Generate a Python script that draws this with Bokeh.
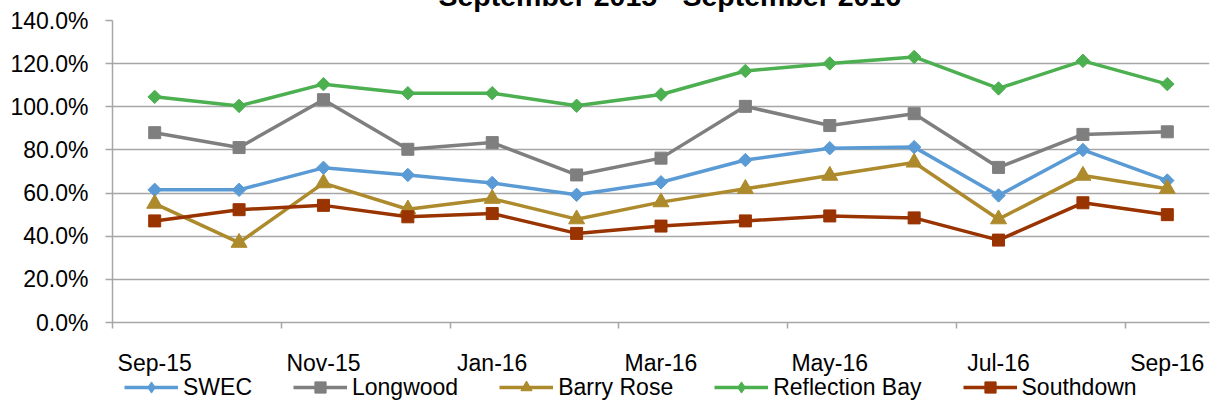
import numpy as np
from bokeh.plotting import figure
from bokeh.layouts import column
from bokeh.models import (FixedTicker, PrintfTickFormatter, Range1d, Legend,
                          LegendItem)
from bokeh.embed import file_html
from bokeh.resources import INLINE

# Monthly occupancy (%) by site, Sep 2015 - Sep 2016
months = ["Sep-15", "Oct-15", "Nov-15", "Dec-15", "Jan-16", "Feb-16", "Mar-16",
          "Apr-16", "May-16", "Jun-16", "Jul-16", "Aug-16", "Sep-16"]
swec = [61.5, 61.5, 71.7, 68.4, 64.7, 59.2, 65.0, 75.3, 80.8, 81.3, 58.9, 80.0, 65.8]
longwood = [88.0, 81.1, 103.3, 80.3, 83.4, 68.4, 76.2, 100.2, 91.3, 96.8, 71.9, 87.2, 88.4]
barry_rose = [55.1, 37.0, 64.6, 52.5, 57.4, 47.9, 55.8, 62.0, 68.1, 74.2, 47.9, 68.1, 62.0]
reflection_bay = [104.6, 100.4, 110.5, 106.3, 106.3, 100.5, 105.7, 116.6, 120.1, 123.1, 108.5, 121.3, 110.5]
southdown = [47.1, 52.3, 54.3, 49.0, 50.5, 41.3, 44.7, 47.1, 49.4, 48.5, 38.2, 55.5, 50.0]
y_ticks = [0, 20, 40, 60, 80, 100, 120, 140]
title_text = "September 2015 - September 2016"

FONT = "Liberation Sans"
GRID = "#a6a6a6"
TOP_CROP = 31      # the title runs off the top edge of the page
W = 1215
MAIN_H = 378 + TOP_CROP
LEG_H = 29
x = np.arange(len(months))

p = figure(width=W, height=MAIN_H, output_backend="svg", toolbar_location=None,
           x_range=Range1d(-0.5, len(months) - 0.5), y_range=Range1d(0, 140),
           min_border_left=112, min_border_right=6, min_border_top=20 + TOP_CROP,
           min_border_bottom=53)
p.outline_line_color = None
p.background_fill_color = "white"
p.border_fill_color = "white"

p.title.text = title_text
p.title.align = "left"
p.title.offset = 326
p.title.standoff = 17
p.title.text_font = FONT
p.title.text_font_size = "28.5px"
p.title.text_font_style = "bold"
p.title.text_color = "black"

# x axis: labels on every other month, tick marks between category pairs
label_pos = [int(i) for i in x[::2]]
p.xaxis.ticker = FixedTicker(ticks=label_pos,
                             minor_ticks=[i - 0.5 for i in label_pos[1:]] + [-0.5])
p.xaxis.major_label_overrides = {i: months[i] for i in label_pos}
p.xaxis.major_tick_out = 0
p.xaxis.major_tick_in = 0
p.xaxis.minor_tick_out = 6
p.xaxis.minor_tick_in = 0
p.xaxis.minor_tick_line_color = GRID
p.xaxis.minor_tick_line_width = 1.5
p.xaxis.axis_line_color = GRID
p.xaxis.axis_line_width = 1.5
p.xaxis.major_label_standoff = 21
p.xaxis.major_label_text_font = FONT
p.xaxis.major_label_text_font_size = "23px"
p.xaxis.major_label_text_color = "black"

# y axis
p.yaxis.ticker = FixedTicker(ticks=y_ticks)
p.yaxis.formatter = PrintfTickFormatter(format="%.1f%%")
p.yaxis.major_tick_out = 7
p.yaxis.major_tick_in = 0
p.yaxis.minor_tick_out = 0
p.yaxis.minor_tick_in = 0
p.yaxis.major_tick_line_color = GRID
p.yaxis.major_tick_line_width = 1.5
p.yaxis.axis_line_color = GRID
p.yaxis.axis_line_width = 1.5
p.yaxis.major_label_standoff = 17
p.yaxis.major_label_text_font = FONT
p.yaxis.major_label_text_font_size = "23px"
p.yaxis.major_label_text_color = "black"

p.xgrid.visible = False
p.ygrid.ticker = FixedTicker(ticks=y_ticks)
p.ygrid.grid_line_color = GRID
p.ygrid.grid_line_width = 1.5

series = [
    ("SWEC", swec, "#5b9bd5", "diamond"),
    ("Longwood", longwood, "#7f7f7f", "square"),
    ("Barry Rose", barry_rose, "#ad8a2c", "triangle"),
    ("Reflection Bay", reflection_bay, "#4caf50", "diamond"),
    ("Southdown", southdown, "#993300", "square"),
]


def add_series(fig, xs, ys, color, kind, in_legend=False):
    ln = fig.line(xs, ys, line_color=color, line_width=3.5)
    if kind == "diamond":
        if in_legend:
            mk = fig.scatter(xs, ys, marker="diamond", size=15,
                             fill_color=color, line_color=color)
        else:
            mk = fig.scatter(xs, ys, marker="square", angle=np.pi / 4, size=9.5,
                             fill_color=color, line_color=color)
    elif kind == "square":
        mk = fig.scatter(xs, ys, marker="square", size=12,
                         fill_color=color, line_color=color)
    else:
        mk = fig.scatter(xs, ys, marker="triangle", size=16,
                         fill_color=color, line_color=color)
    return ln, mk


for name, vals, color, kind in series:
    add_series(p, x, vals, color, kind)

# legend strip underneath the chart; its series sit outside the strip's
# view range, so only the legend entries show
lg = figure(width=W, height=LEG_H, output_backend="svg", toolbar_location=None,
            x_range=Range1d(-1000, -999), y_range=Range1d(-1000, -999),
            min_border=0, min_border_left=0, min_border_right=0,
            min_border_top=0, min_border_bottom=0)
lg.axis.visible = False
lg.grid.visible = False
lg.outline_line_color = None
lg.background_fill_color = "white"
lg.border_fill_color = "white"

items = []
for name, vals, color, kind in series:
    ln, mk = add_series(lg, x, vals, color, kind, in_legend=True)
    items.append(LegendItem(label=name, renderers=[ln, mk]))

legend = Legend(items=items, orientation="horizontal", location=(12, 6),
                glyph_width=54, glyph_height=28, label_standoff=5, spacing=41,
                padding=0, margin=0, border_line_color=None,
                background_fill_alpha=0, label_text_font=FONT,
                label_text_font_size="23px", label_text_color="black")
lg.add_layout(legend, "center")

layout = column(p, lg, spacing=0)
layout.styles = {"margin-top": f"-{TOP_CROP}px"}

open("out.html", "w").write(file_html(layout, INLINE))
